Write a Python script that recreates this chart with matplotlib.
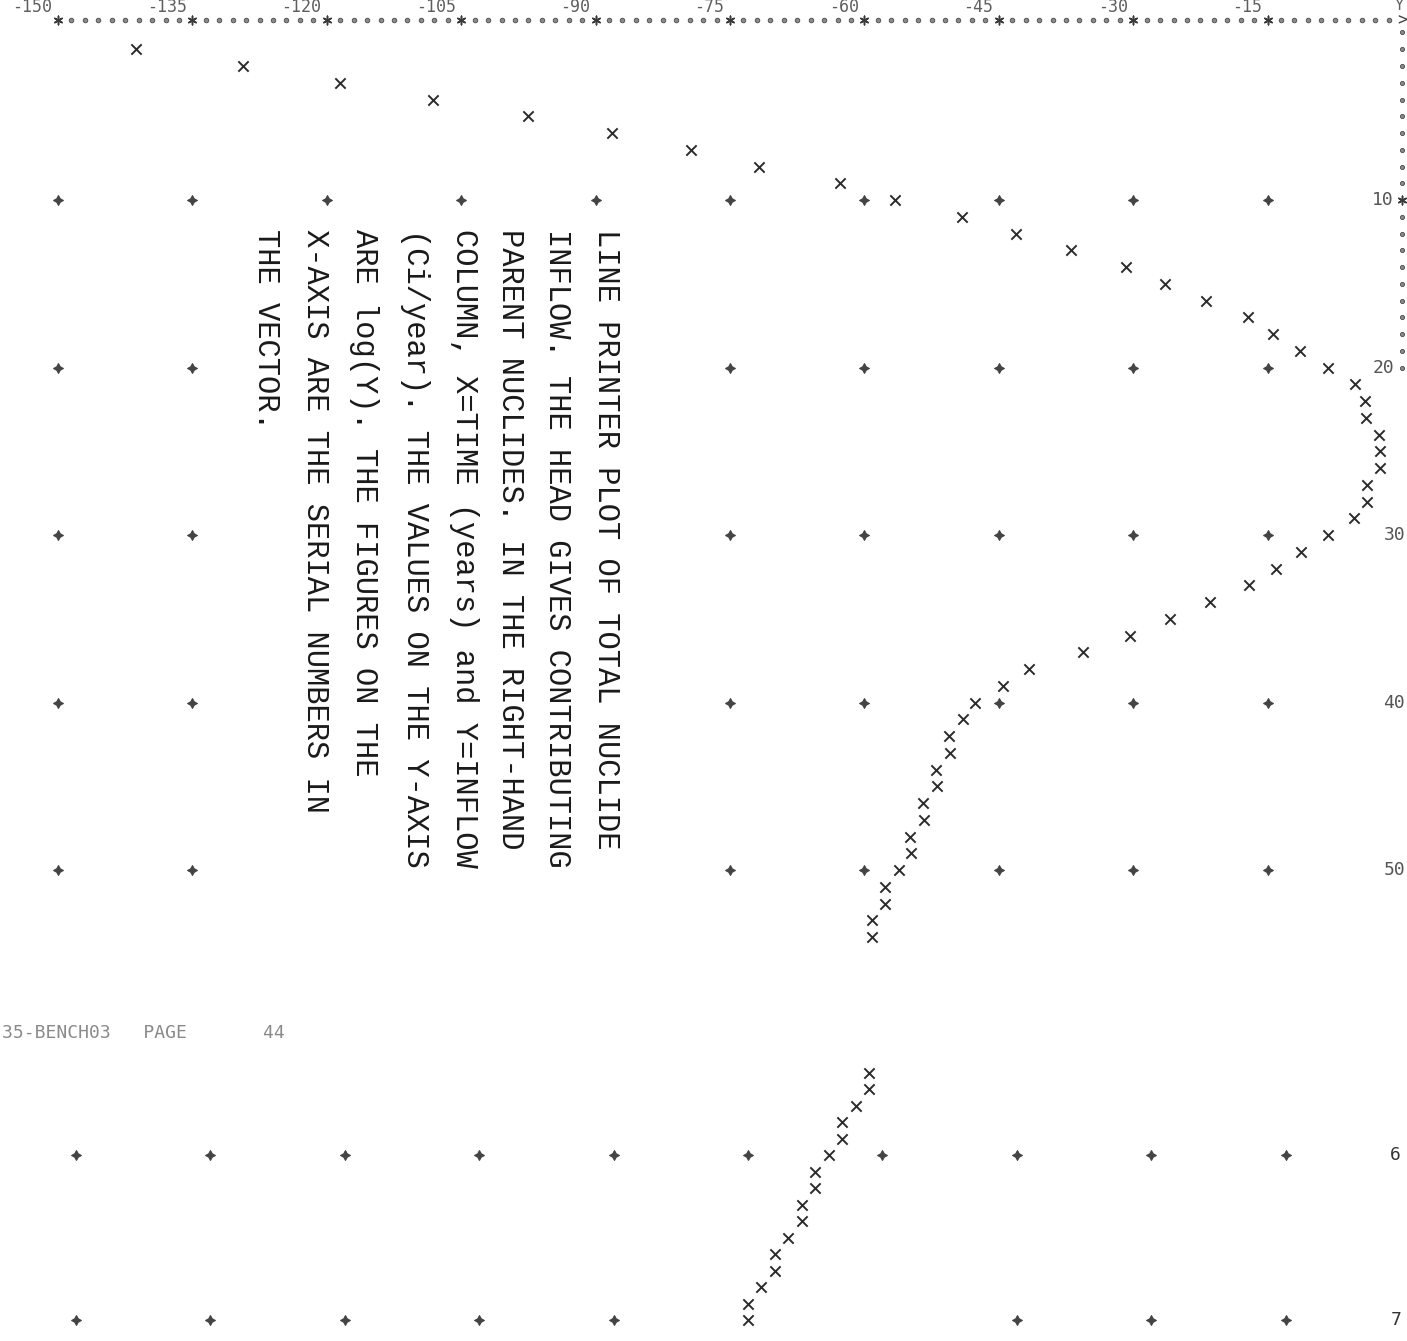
import numpy as np
import matplotlib.pyplot as plt

# ------------------------------------------------
# Data
# ------------------------------------------------
# upper page: serial numbers (rows) and log(Y) values
rows_upper = list(range(1, 55))
values_upper = [-141.3, -129.4, -118.5, -108.1, -97.5, -88.2, -79.4, -71.8, -62.7, -56.6,
                -49.1, -43.1, -36.9, -30.8, -26.5, -21.9, -17.2, -14.4, -11.4, -8.3,
                -5.2, -4.1, -4.0, -2.6, -2.5, -2.5, -3.9, -3.9, -5.4, -8.3,
                -11.3, -14.1, -17.1, -21.4, -25.9, -30.4, -35.6, -41.6, -44.5, -47.7,
                -49.0, -50.6, -50.4, -52.0, -51.9, -53.5, -53.3, -54.9, -54.8, -56.1,
                -57.7, -57.7, -59.2, -59.2]

# lower page (next sheet)
rows_lower = list(range(55, 71))
values_lower = [-61.5, -61.5, -63.0, -64.5, -64.5, -66.0, -67.5, -67.5,
                -69.0, -69.0, -70.5, -72.0, -72.0, -73.5, -75.0, -75.0]

# axis ticks
x_ticks = [-150, -135, -120, -105, -90, -75, -60, -45, -30, -15]
x_tick_labels = ['-150', '-135', '-120', '-105', '-90', '-75', '-60', '-45', '-30', '-15']
grid_rows_upper = [10, 20, 30, 40, 50]
grid_rows_lower = [60, 70]
row_labels_upper = ['10', '20', '30', '40', '50']
row_labels_lower = ['6', '7']

note_lines = ['LINE PRINTER PLOT OF TOTAL NUCLIDE',
              'INFLOW. THE HEAD GIVES CONTRIBUTING',
              'PARENT NUCLIDES. IN THE RIGHT-HAND',
              'COLUMN, X=TIME (years) and Y=INFLOW',
              '(Ci/year). THE VALUES ON THE Y-AXIS',
              'ARE log(Y). THE FIGURES ON THE',
              'X-AXIS ARE THE SERIAL NUMBERS IN',
              'THE VECTOR.']
page_header = '35-BENCH03   PAGE       44'

# ------------------------------------------------
# Figure: two printer sheets stacked
# ------------------------------------------------
W, H = 1407, 1341
split = 990  # pixel row where the next sheet starts
fig = plt.figure(figsize=(W / 100, H / 100), dpi=100)
fig.patch.set_facecolor('white')

ax_up = fig.add_axes([0, (H - split) / H, 1, split / H])
ax_lo = fig.add_axes([0, 0, 1, (H - split) / H])
for ax in (ax_up, ax_lo):
    ax.set_axis_off()

ax_up.set_xlim(-1402 / 8.96, 5 / 8.96)
ax_up.set_ylim(57.16, -1.94)
ax_lo.set_xlim(-1420 / 8.96, -13 / 8.96)
ax_lo.set_ylim(71.27, 50.0)

ink = '#2b2b2b'
faint = '#5e5e5e'

# top axis: dots every printer column, star at every tick
cols = np.arange(-150, 0, 1.5)
dots = [c for c in cols if round(c, 1) not in x_ticks]
ax_up.scatter(dots, [-0.75] * len(dots), marker='o', s=11, facecolors='#8a8a8a',
              edgecolors='#4a4a4a', linewidths=0.6)
ax_up.scatter(x_ticks, [-0.75] * len(x_ticks), marker=(6, 2, 0), s=38, color='#3a3a3a', linewidths=1.1)
ax_up.text(0, -0.75, '>', ha='center', va='center', fontsize=12, color='#444444',
           family='DejaVu Sans Mono')
ax_up.text(-0.3, -1.6, 'Y', ha='center', va='center', fontsize=11, color=faint,
           family='DejaVu Sans Mono')
for t, lab in zip(x_ticks, x_tick_labels):
    ax_up.text(t - 0.6, -1.55, lab, ha='right', va='center', fontsize=12, color=faint,
               family='DejaVu Sans Mono')

# right axis (only visible down to row 20)
r_dots = [r for r in range(0, 21) if r not in (10,)]
ax_up.scatter([0] * len(r_dots), r_dots, marker='o', s=9, facecolors='#8a8a8a',
              edgecolors='#4a4a4a', linewidths=0.6)
ax_up.scatter([0], [10], marker=(6, 2, 0), s=38, color='#3a3a3a', linewidths=1.1)

for r, lab in zip(grid_rows_upper, row_labels_upper):
    xpos = -0.9 if r <= 20 else 0.35
    ax_up.text(xpos, r, lab, ha='right', va='center', fontsize=13, color='#555555',
               family='DejaVu Sans Mono')
for r, lab in zip(grid_rows_lower, row_labels_lower):
    ax_lo.text(-2.7, r, lab, ha='center', va='center', fontsize=13, color='#333333',
               family='DejaVu Sans Mono')

# grid crosses (the pasted note hides some of them)
hidden = [-120, -105, -90]
gx, gy = [], []
for r in grid_rows_upper:
    for t in x_ticks:
        if r > 10 and t in hidden:
            continue
        gx.append(t)
        gy.append(r)
ax_up.scatter(gx, gy, marker=(4, 1, 0), s=50, color='#444444', linewidths=0.8)

gx, gy = [], []
for r in grid_rows_lower:
    for t in x_ticks:
        if r == 70 and t in (-75, -60):
            continue
        gx.append(t)
        gy.append(r)
ax_lo.scatter(gx, gy, marker=(4, 1, 0), s=50, color='#444444', linewidths=0.8)

# the plotted curve
ax_up.scatter(values_upper, rows_upper, marker='x', s=55, color=ink, linewidths=1.4)
ax_lo.scatter(values_lower, rows_lower, marker='x', s=55, color=ink, linewidths=1.4)

# typed note, rotated on the sheet
note_x = [606, 557, 510, 464, 415, 364, 315, 266]
for px, line in zip(note_x, note_lines):
    fig.text(px / W, 1 - 229 / H, line, rotation=270, ha='center', va='top',
             fontsize=22, family='Liberation Mono', color='#1a1a1a')

# header of the next printer page
fig.text(2 / W, 1 - 1033 / H, page_header, ha='left', va='center', fontsize=13,
         family='DejaVu Sans Mono', color='#8a8a8a')

fig.savefig('out.png', dpi=100, facecolor='white')
